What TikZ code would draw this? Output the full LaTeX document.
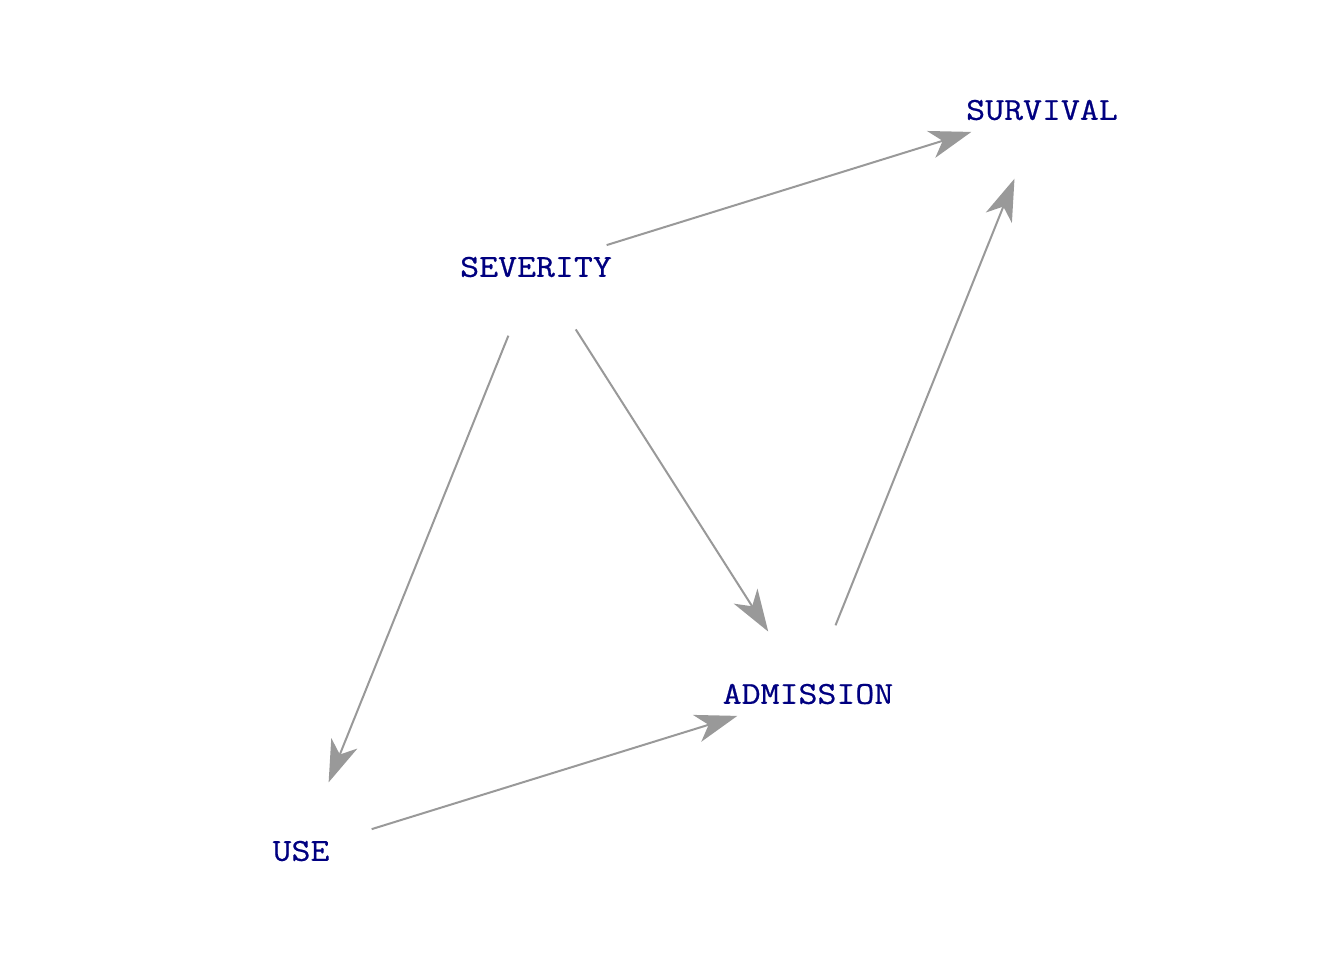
\documentclass[tikz,border=0pt]{standalone}
\usepackage{fontspec}
\setmonofont{Latin Modern Mono}[FakeStretch=1.15, FakeBold=0.6]
\usepackage{tikz}
\usetikzlibrary{arrows.meta}
\definecolor{dagtext}{RGB}{0,0,128}
\definecolor{dagedge}{RGB}{153,153,153}

\begin{document}
\begin{tikzpicture}[x=0.5pt, y=-0.5pt,
		var/.style={text=dagtext, font=\ttfamily\fontsize{16}{19}\selectfont, inner sep=0pt},
		edge/.style={draw=dagedge, line width=1pt, shorten <=37pt, shorten >=37pt,
			-{Stealth[length=21pt, width=14pt, inset=6pt, fill=dagedge]}}]
			%%%%% START %%%%%
			
			\useasboundingbox (0, 0) rectangle (1344, 960);
			
			\node[var] (survival) at (1042, 110) {SURVIVAL};
			\node[var] (severity) at (536, 267) {SEVERITY};
			\node[var] (admission) at (808, 694) {ADMISSION};
			\node[var] (use) at (301, 851) {USE};
			
			\draw[edge] (severity.center) -- (survival.center);
			\draw[edge] (admission.center) -- (survival.center);
			\draw[edge] (severity.center) -- (admission.center);
			\draw[edge] (severity.center) -- (use.center);
			\draw[edge] (use.center) -- (admission.center);
			
			%%%%% END %%%%%
		\end{tikzpicture}
\end{document}
